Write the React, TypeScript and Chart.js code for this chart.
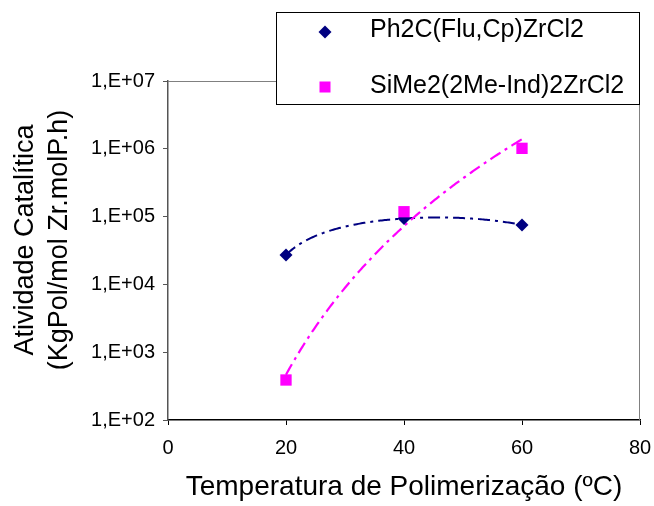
import React, { useEffect, useRef } from "react";
import { Chart, registerables } from "chart.js";

Chart.register(...registerables);

// ---- data ----
const temperatures = [20, 40, 60];
const ph2cActivity = [27200, 93800, 75200];
const sime2Activity = [389, 118000, 1016000];
const yTickValues = [1e2, 1e3, 1e4, 1e5, 1e6, 1e7];
const seriesLabels = ["Ph2C(Flu,Cp)ZrCl2", "SiMe2(2Me-Ind)2ZrCl2"];
const seriesColors = ["#000080", "#FF00FF"];
const yTitleLines = ["Atividade Catalítica", "(KgPol/mol Zr.molP.h)"];
const xTitle = "Temperatura de Polimerização (ºC)";

const FONT = "'Liberation Sans', Arial, Helvetica, sans-serif";

const formatPow = (v: number) => {
  const e = Math.round(Math.log10(v));
  return "1,E+" + String(e).padStart(2, "0");
};

// ---- trendlines fitted to the data (as the original spreadsheet does) ----
// polynomial (order 2) least-squares fit
function polyFit2(xs: number[], ys: number[]) {
  const n = xs.length;
  let s0 = n, s1 = 0, s2 = 0, s3 = 0, s4 = 0, t0 = 0, t1 = 0, t2 = 0;
  for (let i = 0; i < n; i++) {
    const x = xs[i], y = ys[i];
    s1 += x; s2 += x * x; s3 += x * x * x; s4 += x * x * x * x;
    t0 += y; t1 += x * y; t2 += x * x * y;
  }
  // solve [[s4,s3,s2],[s3,s2,s1],[s2,s1,s0]] [a,b,c] = [t2,t1,t0]
  const M = [
    [s4, s3, s2, t2],
    [s3, s2, s1, t1],
    [s2, s1, s0, t0],
  ];
  for (let c = 0; c < 3; c++) {
    let p = c;
    for (let r = c + 1; r < 3; r++) if (Math.abs(M[r][c]) > Math.abs(M[p][c])) p = r;
    [M[c], M[p]] = [M[p], M[c]];
    for (let r = 0; r < 3; r++) {
      if (r === c) continue;
      const f = M[r][c] / M[c][c];
      for (let k = c; k < 4; k++) M[r][k] -= f * M[c][k];
    }
  }
  const a = M[0][3] / M[0][0], b = M[1][3] / M[1][1], c = M[2][3] / M[2][2];
  return (x: number) => a * x * x + b * x + c;
}

// power fit y = A x^B (least squares in log-log space)
function powerFit(xs: number[], ys: number[]) {
  const lx = xs.map(Math.log), ly = ys.map(Math.log);
  const n = xs.length;
  const mx = lx.reduce((p, v) => p + v, 0) / n;
  const my = ly.reduce((p, v) => p + v, 0) / n;
  let sxy = 0, sxx = 0;
  for (let i = 0; i < n; i++) {
    sxy += (lx[i] - mx) * (ly[i] - my);
    sxx += (lx[i] - mx) * (lx[i] - mx);
  }
  const B = sxy / sxx;
  const A = Math.exp(my - B * mx);
  return (x: number) => A * Math.pow(x, B);
}

function sampleTrend(fn: (x: number) => number, xs: number[]) {
  const lo = Math.min(...xs), hi = Math.max(...xs);
  const pts: { x: number; y: number }[] = [];
  const steps = 160;
  for (let i = 0; i <= steps; i++) {
    const x = lo + ((hi - lo) * i) / steps;
    const y = fn(x);
    if (y > 0) pts.push({ x, y });
  }
  return pts;
}

const decorPlugin = {
  id: "decor",
  afterDraw(chart: any) {
    const { ctx, chartArea: a } = chart;
    ctx.save();
    // plot area frame (top & right)
    ctx.strokeStyle = "#808080";
    ctx.lineWidth = 1;
    ctx.beginPath();
    ctx.moveTo(a.left, Math.round(a.top) + 0.5);
    ctx.lineTo(Math.round(a.right) - 0.5, Math.round(a.top) + 0.5);
    ctx.lineTo(Math.round(a.right) - 0.5, a.bottom);
    ctx.stroke();

    // y-axis title (two lines, rotated)
    ctx.fillStyle = "#000";
    ctx.font = `27px ${FONT}`;
    ctx.textAlign = "center";
    ctx.textBaseline = "middle";
    const titleXs = [26, 60];
    yTitleLines.forEach((line, i) => {
      ctx.save();
      ctx.translate(titleXs[i], 240);
      ctx.rotate(-Math.PI / 2);
      ctx.fillText(line, 0, 0);
      ctx.restore();
    });

    // legend box
    const bx = 276.5, by = 12.5, bw = 363, bh = 92;
    ctx.fillStyle = "#fff";
    ctx.fillRect(bx, by, bw, bh);
    ctx.strokeStyle = "#000";
    ctx.lineWidth = 1;
    ctx.strokeRect(bx, by, bw, bh);

    ctx.font = `25px ${FONT}`;
    ctx.textAlign = "left";
    ctx.textBaseline = "alphabetic";
    const rows = [
      { my: 32, base: 37 },
      { my: 87, base: 93 },
    ];
    chart.data.datasets
      .filter((ds: any) => !ds.isTrend)
      .forEach((ds: any, i: number) => {
        const r = rows[i];
        const mx = 325;
        ctx.fillStyle = ds.pointBackgroundColor;
        ctx.beginPath();
        if (ds.pointStyle === "rectRot") {
          ctx.moveTo(mx, r.my - 6.5);
          ctx.lineTo(mx + 6.5, r.my);
          ctx.lineTo(mx, r.my + 6.5);
          ctx.lineTo(mx - 6.5, r.my);
          ctx.closePath();
          ctx.fill();
        } else {
          ctx.fillRect(mx - 5.5, r.my - 5.5, 11, 11);
        }
        ctx.fillStyle = "#000";
        ctx.fillText(ds.label, 370, r.base);
      });
    ctx.restore();
  },
};

export default function App() {
  const canvasRef = useRef<HTMLCanvasElement | null>(null);

  useEffect(() => {
    const canvas = canvasRef.current;
    if (!canvas) return;
    const ph2cTrend = sampleTrend(polyFit2(temperatures, ph2cActivity), temperatures);
    const sime2Trend = sampleTrend(powerFit(temperatures, sime2Activity), temperatures);
    const dash = [12, 5, 3, 5];
    const chart = new Chart(canvas, {
      type: "scatter",
      data: {
        datasets: [
          {
            label: seriesLabels[0],
            data: temperatures.map((t, i) => ({ x: t, y: ph2cActivity[i] })),
            showLine: false,
            pointStyle: "rectRot",
            pointRadius: 6.5,
            pointBackgroundColor: seriesColors[0],
            pointBorderColor: seriesColors[0],
            pointBorderWidth: 0,
            order: 2,
          },
          {
            label: seriesLabels[1],
            data: temperatures.map((t, i) => ({ x: t, y: sime2Activity[i] })),
            showLine: false,
            pointStyle: "rect",
            pointRadius: 8,
            pointBackgroundColor: seriesColors[1],
            pointBorderColor: seriesColors[1],
            pointBorderWidth: 0,
            order: 1,
          },
          {
            label: "trend-0",
            isTrend: true,
            data: ph2cTrend,
            showLine: true,
            tension: 0,
            borderColor: seriesColors[0],
            borderWidth: 2,
            borderDash: dash,
            pointRadius: 0,
            order: 4,
          },
          {
            label: "trend-1",
            isTrend: true,
            data: sime2Trend,
            showLine: true,
            tension: 0,
            borderColor: seriesColors[1],
            borderWidth: 2.2,
            borderDash: dash,
            pointRadius: 0,
            order: 3,
          },
        ],
      },
      options: {
        responsive: false,
        animation: false,
        devicePixelRatio: 1,
        layout: { padding: { top: 81, right: 14, bottom: 0, left: 0 } },
        plugins: {
          legend: { display: false },
          tooltip: { enabled: false },
        },
        scales: {
          x: {
            type: "linear",
            min: 0,
            max: 80,
            ticks: {
              stepSize: 20,
              color: "#000",
              padding: 11,
              font: { family: FONT, size: 20 },
            },
            grid: {
              drawOnChartArea: false,
              drawTicks: true,
              tickLength: 5,
              color: "#000",
            },
            border: { display: true, color: "#000", width: 1.5 },
            title: {
              display: true,
              text: xTitle,
              color: "#000",
              font: { family: FONT, size: 28 },
              padding: { top: 0, bottom: 2 },
            },
            afterFit: (s: any) => {
              s.height = 86;
              s.paddingLeft = 0;
              s.paddingRight = 0;
            },
          },
          y: {
            type: "logarithmic",
            min: 100,
            max: 1e7,
            afterBuildTicks: (s: any) => {
              s.ticks = yTickValues.map((v) => ({ value: v, major: true }));
            },
            ticks: {
              color: "#000",
              padding: 8,
              font: { family: FONT, size: 20 },
              callback: (v: any) => formatPow(Number(v)),
            },
            grid: {
              drawOnChartArea: false,
              drawTicks: true,
              tickLength: 5,
              color: "#555",
            },
            border: { display: true, color: "#555", width: 1.5 },
            afterFit: (s: any) => {
              s.width = 168;
              s.paddingTop = 0;
              s.paddingBottom = 0;
            },
          },
        },
      },
      plugins: [decorPlugin],
    } as any);
    return () => chart.destroy();
  }, []);

  return (
    <div style={{ position: "absolute", left: 0, top: 0, width: 654, height: 506, background: "#fff" }}>
      <canvas ref={canvasRef} width={654} height={506} style={{ width: 654, height: 506 }} />
    </div>
  );
}
